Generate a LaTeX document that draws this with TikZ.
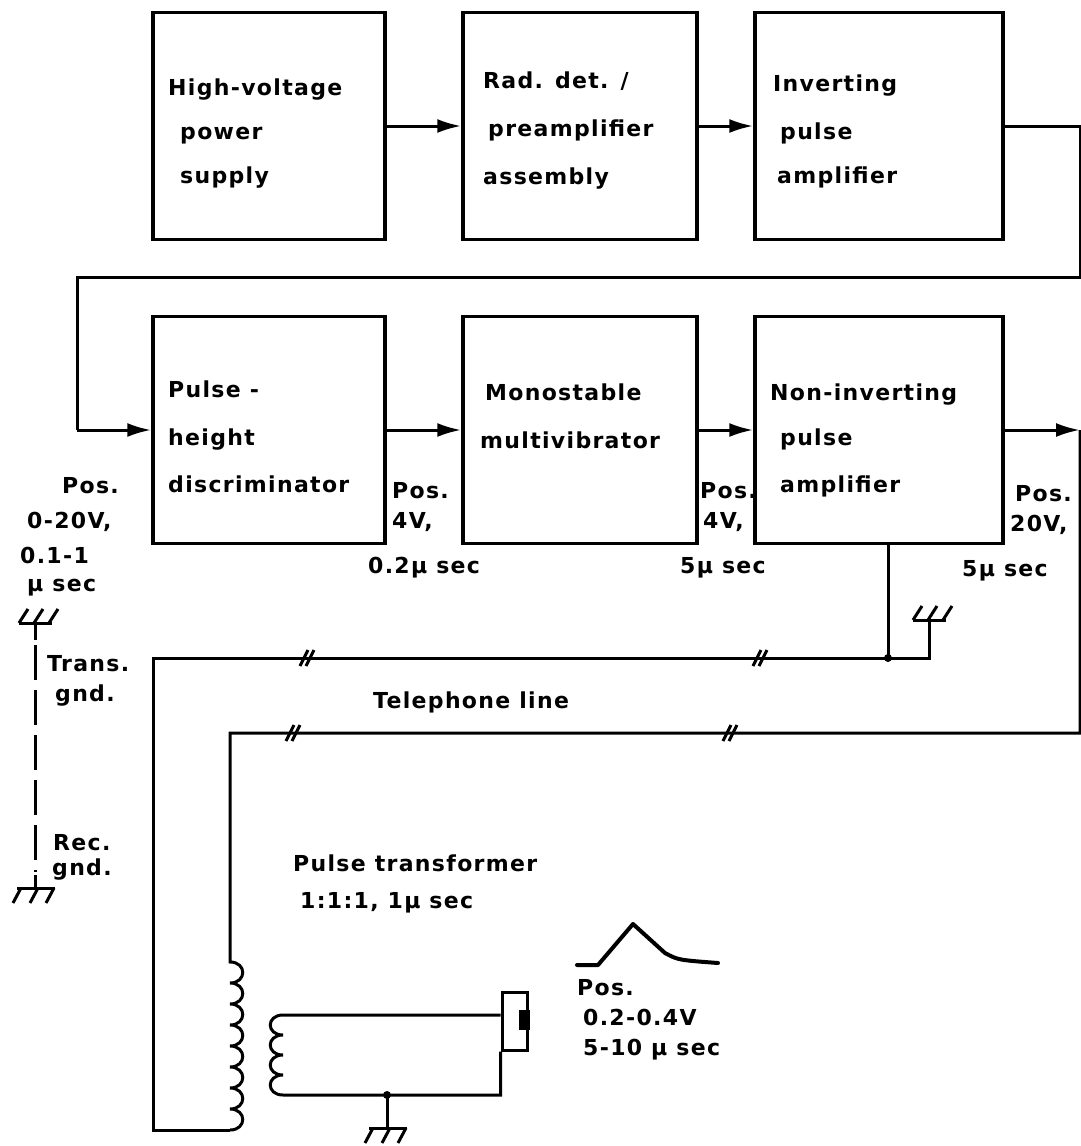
\documentclass[tikz,border=0pt]{standalone}
\usepackage{fontspec}
\setmainfont[LetterSpace=6]{DejaVu Sans}
\usetikzlibrary{arrows.meta,calc}
\begin{document}
\begin{tikzpicture}[x=1pt,y=-1pt,
  blk/.style={draw, line width=3.5pt, inner sep=0pt, minimum height=227pt},
  wire/.style={line width=3pt},
  arr/.style={wire, -{Latex[length=24pt,width=14pt]}},
  txt/.style={font=\fontsize{22}{27}\selectfont\bfseries, inner sep=0pt, anchor=west, text height=16pt, text depth=0pt},
  dot/.style={circle, fill, inner sep=0pt, minimum size=8pt},
  gup/.pic={\draw[wire] (-16,0)--(17,0); \foreach \dx in {-16,-1,14}{\draw[wire] (\dx,0)--++(9,-14);}},
  gdn/.pic={\draw[wire] (-18,0)--(20,0); \foreach \dx in {-14,3,19}{\draw[wire] (\dx,0)--++(-8,15);}},
  brk/.pic={\draw[wire] (-7,8)--(1,-8); \draw[wire] (-1,8)--(7,-8);}
]
\useasboundingbox (0,0) rectangle (1081,1146);
% boxes
\node[blk, minimum width=232pt] (b1) at (269,126) {};
\node[blk, minimum width=234pt] (b2) at (580,126) {};
\node[blk, minimum width=248pt] (b3) at (879,126) {};
\node[blk, minimum width=232pt] (b4) at (269,430) {};
\node[blk, minimum width=234pt] (b5) at (580,430) {};
\node[blk, minimum width=248pt] (b6) at (879,430) {};
% box texts
\node[txt] (t1a) at (168,87) {High-voltage};
\node[txt] (t1b) at (180,131) {power};
\node[txt] (t1c) at (180,175) {supply};
\node[txt] (t2a) at (483,80) {Rad. det. /};
\node[txt] (t2b) at (488,128) {preamplifier};
\node[txt] (t2c) at (483,176) {assembly};
\node[txt] (t3a) at (773,83) {Inverting};
\node[txt] (t3b) at (780,131) {pulse};
\node[txt] (t3c) at (777,175) {amplifier};
\node[txt] (t4a) at (168,389) {Pulse -};
\node[txt] (t4b) at (168,437) {height};
\node[txt] (t4c) at (168,484) {discriminator};
\node[txt] (t5a) at (485,392) {Monostable};
\node[txt] (t5b) at (480,440) {multivibrator};
\node[txt] (t6a) at (770,392) {Non-inverting};
\node[txt] (t6b) at (780,437) {pulse};
\node[txt] (t6c) at (780,484) {amplifier};
% arrows between boxes
\draw[arr] (b1.east) -- (b2.west);
\draw[arr] (b2.east) -- (b3.west);
\draw[arr] (b4.east) -- (b5.west);
\draw[arr] (b5.east) -- (b6.west);
\coordinate (r1) at (1080,126);
\coordinate (r2) at (1080,277);
\coordinate (l1) at (77,277);
\coordinate (l2) at (77,430);
\draw[wire] (b3.east) -- (r1) -- (r2) -- (l1) -- (l2);
\draw[arr] (l2) -- (b4.west);
\coordinate (o1) at (1080,430);
\draw[arr] (b6.east) -- (o1);
% signal labels
\node[txt] (p1a) at (62,485) {Pos.};
\node[txt] (p1b) at (27,520) {0-20V,};
\node[txt] (p1c) at (20,555) {0.1-1};
\node[txt] (p1d) at (27,583) {μ sec};
\node[txt] (p2a) at (392,490) {Pos.};
\node[txt] (p2b) at (392,520) {4V,};
\node[txt] (p2c) at (368,565) {0.2μ sec};
\node[txt] (p3a) at (700,490) {Pos.};
\node[txt] (p3b) at (703,520) {4V,};
\node[txt] (p3c) at (680,565) {5μ sec};
\node[txt] (p4a) at (1015,493) {Pos.};
\node[txt] (p4b) at (1010,523) {20V,};
\node[txt] (p4c) at (962,568) {5μ sec};
% grounds and telephone line
\coordinate (j1) at (888,658);
\coordinate (g1) at (929,620);
\draw[wire] (b6.south -| j1) -- (j1);
\draw[wire] (g1) -- (929,658) -- (153,658) -- (153,1130) -- (230,1130);
\node[dot] (jd1) at (j1) {};
\pic at (g1) {gup};
\draw[wire] (o1) -- (1080,733) -- (230,733) -- (230,962)
  \foreach \i in {1,...,8} { .. controls +(17,0) and +(17,0) .. ++(0,21) };
\pic at (307,658) {brk};
\pic at (760,658) {brk};
\pic at (293,733) {brk};
\pic at (730,733) {brk};
\node[txt] (tel) at (373,700) {Telephone line};
% ground to ground
\coordinate (gt) at (35,623);
\coordinate (gr) at (35,888);
\pic at (gt) {gup};
\pic at (gr) {gdn};
\draw[wire] (gt) -- (35,640);
\draw[wire] (35,875) -- (gr);
\draw[wire, dash pattern=on 35pt off 10pt] (35,645) -- (35,872);
\node[txt] (tg1) at (47,663) {Trans.};
\node[txt] (tg2) at (55,693) {gnd.};
\node[txt] (rg1) at (53,842) {Rec.};
\node[txt] (rg2) at (52,867) {gnd.};
% transformer
\node[txt] (pt1) at (293,863) {Pulse transformer};
\node[txt] (pt2) at (300,900) {1:1:1, 1μ sec};
\node[draw, line width=3pt, minimum width=25pt, minimum height=58pt, inner sep=0pt] (con) at (514.5,1021) {};
\node[fill, minimum width=11pt, minimum height=20pt, inner sep=0pt] (pin) at (524,1020) {};
\coordinate (s1) at (283,1015);
\coordinate (s2) at (283,1095);
\coordinate (j2) at (387,1095);
\draw[wire] (con.west |- s1) -- (s1)
  \foreach \i in {1,...,4} { .. controls +(-17,0) and +(-17,0) .. ++(0,20) }
  -- (con.west |- s2) -- (con.south west);
\node[dot] (jd2) at (j2) {};
\coordinate (g3) at (387,1128);
\draw[wire] (j2) -- (g3);
\pic at (g3) {gdn};
% pulse shape
\draw[line width=4pt, line join=round, line cap=round] (577,965) -- (598,965) -- (633,924) -- (665,953) .. controls (678,960) .. (718,963);
\node[txt] (pl1) at (577,987) {Pos.};
\node[txt] (pl2) at (583,1017) {0.2-0.4V};
\node[txt] (pl3) at (583,1047) {5-10 μ sec};
\end{tikzpicture}
\end{document}
